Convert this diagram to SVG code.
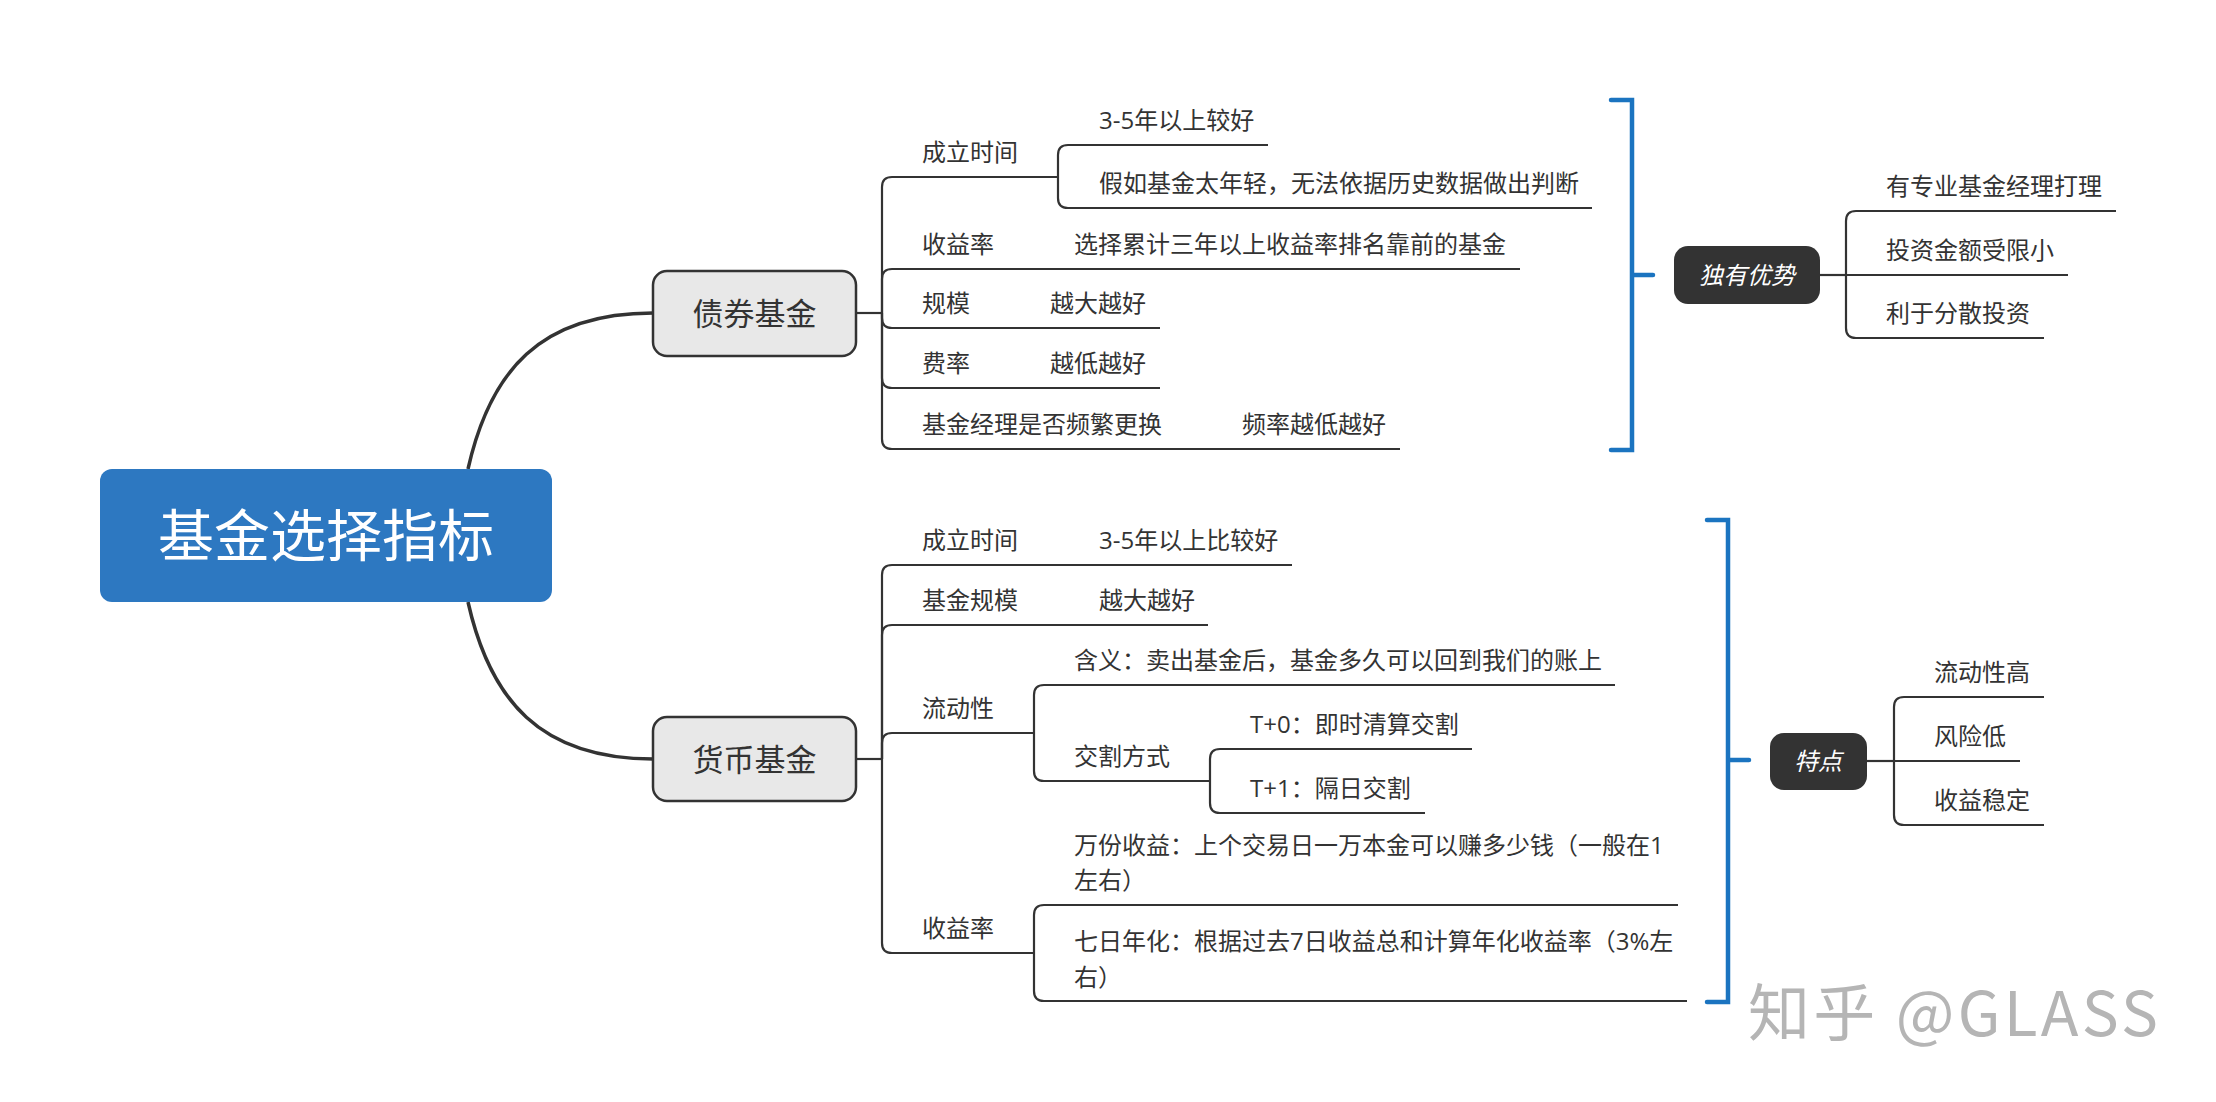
<svg xmlns="http://www.w3.org/2000/svg" width="2216" height="1102" viewBox="0 0 2216 1102">
<style>
.t{font-family:"Open Sans","Noto Sans CJK SC",sans-serif;font-size:24px;fill:#333}
.ln{fill:none;stroke:#333;stroke-width:2.2}
.cv{fill:none;stroke:#333;stroke-width:3.5}
.bl{fill:none;stroke:#1b74c0;stroke-width:4.5;stroke-linecap:round;stroke-linejoin:miter}
.sub{fill:#e8e8e8;stroke:#333;stroke-width:2.5}
.dk{fill:#333}
.bt{font-family:"Noto Sans CJK SC",sans-serif;font-size:31px;fill:#333;text-anchor:middle}
.dt{font-family:"Noto Sans CJK SC",sans-serif;font-size:24px;fill:#fff;text-anchor:middle;font-style:italic}
</style>
<rect width="2216" height="1102" fill="#fff"/>
<g id="connectors">
<path class="cv" d="M468 469 C490 371 540 313 653 313"/>
<path class="cv" d="M468 602 C490 700 540 759 653 759"/>
<!-- bond fund -->
<path class="ln" d="M856 313 L882 313"/>
<path class="ln" d="M882 313 L882 187 Q882 177 892 177 L1058 177"/>
<path class="ln" d="M1058 177 L1058 155 Q1058 145 1068 145 L1268 145"/>
<path class="ln" d="M1058 177 L1058 198 Q1058 208 1068 208 L1592 208"/>
<path class="ln" d="M882 313 L882 279 Q882 269 892 269 L1520 269"/>
<path class="ln" d="M882 313 L882 318 Q882 328 892 328 L1160 328"/>
<path class="ln" d="M882 313 L882 378 Q882 388 892 388 L1160 388"/>
<path class="ln" d="M882 313 L882 439 Q882 449 892 449 L1400 449"/>
<path class="bl" d="M1611 100 L1632 100 L1632 450 L1611 450 M1632 275 L1653 275"/>
<path class="ln" d="M1820 275 L1846 275"/>
<path class="ln" d="M1846 275 L1846 221 Q1846 211 1856 211 L2116 211"/>
<path class="ln" d="M1846 275 L2068 275"/>
<path class="ln" d="M1846 275 L1846 328 Q1846 338 1856 338 L2044 338"/>
<!-- money fund -->
<path class="ln" d="M856 759 L882 759"/>
<path class="ln" d="M882 759 L882 575 Q882 565 892 565 L1292 565"/>
<path class="ln" d="M882 759 L882 635 Q882 625 892 625 L1208 625"/>
<path class="ln" d="M882 759 L882 743 Q882 733 892 733 L1034 733"/>
<path class="ln" d="M1034 733 L1034 695 Q1034 685 1044 685 L1615 685"/>
<path class="ln" d="M1034 733 L1034 771 Q1034 781 1044 781 L1210 781"/>
<path class="ln" d="M1210 781 L1210 759 Q1210 749 1220 749 L1472 749"/>
<path class="ln" d="M1210 781 L1210 803 Q1210 813 1220 813 L1425 813"/>
<path class="ln" d="M882 759 L882 943 Q882 953 892 953 L1034 953"/>
<path class="ln" d="M1034 953 L1034 915 Q1034 905 1044 905 L1678 905"/>
<path class="ln" d="M1034 953 L1034 991 Q1034 1001 1044 1001 L1687 1001"/>
<path class="bl" d="M1707 520 L1728 520 L1728 1002 L1707 1002 M1728 760 L1749 760"/>
<path class="ln" d="M1867 761 L1894 761"/>
<path class="ln" d="M1894 761 L1894 707 Q1894 697 1904 697 L2044 697"/>
<path class="ln" d="M1894 761 L2020 761"/>
<path class="ln" d="M1894 761 L1894 815 Q1894 825 1904 825 L2044 825"/>
</g>
<g id="root">
<rect x="100" y="469" width="452" height="133" rx="12" fill="#2d78c1"/>
<text x="326" y="556" font-family="Noto Sans CJK SC, sans-serif" font-size="56" fill="#fff" text-anchor="middle">基金选择指标</text>
</g>
<g id="bond-fund">
<rect class="sub" x="653" y="271" width="203" height="85" rx="14"/>
<text class="bt" x="754.5" y="325">债券基金</text>
</g>
<g id="bond-items">
<text class="t" x="922" y="161">成立时间</text>
<text class="t" x="1099" y="129">3-5年以上较好</text>
<text class="t" x="1099" y="192">假如基金太年轻，无法依据历史数据做出判断</text>
<text class="t" x="922" y="253">收益率</text>
<text class="t" x="1074" y="253">选择累计三年以上收益率排名靠前的基金</text>
<text class="t" x="922" y="312">规模</text>
<text class="t" x="1050" y="312">越大越好</text>
<text class="t" x="922" y="372">费率</text>
<text class="t" x="1050" y="372">越低越好</text>
<text class="t" x="922" y="433">基金经理是否频繁更换</text>
<text class="t" x="1242" y="433">频率越低越好</text>
</g>
<g id="advantage">
<rect class="dk" x="1674" y="246" width="146" height="58" rx="14"/>
<text class="dt" x="1747" y="284">独有优势</text>
</g>
<g id="advantage-items">
<text class="t" x="1886" y="195">有专业基金经理打理</text>
<text class="t" x="1886" y="259">投资金额受限小</text>
<text class="t" x="1886" y="322">利于分散投资</text>
</g>
<g id="money-fund">
<rect class="sub" x="653" y="717" width="203" height="84" rx="14"/>
<text class="bt" x="754.5" y="771">货币基金</text>
</g>
<g id="money-items">
<text class="t" x="922" y="549">成立时间</text>
<text class="t" x="1099" y="549">3-5年以上比较好</text>
<text class="t" x="922" y="609">基金规模</text>
<text class="t" x="1099" y="609">越大越好</text>
<text class="t" x="922" y="717">流动性</text>
<text class="t" x="1074" y="669">含义：卖出基金后，基金多久可以回到我们的账上</text>
<text class="t" x="1074" y="765">交割方式</text>
<text class="t" x="1250" y="733">T+0：即时清算交割</text>
<text class="t" x="1250" y="797">T+1：隔日交割</text>
<text class="t" x="922" y="937">收益率</text>
<text class="t" x="1074" y="854">万份收益：上个交易日一万本金可以赚多少钱（一般在1</text>
<text class="t" x="1074" y="889">左右）</text>
<text class="t" x="1074" y="950">七日年化：根据过去7日收益总和计算年化收益率（3%左</text>
<text class="t" x="1074" y="986">右）</text>
</g>
<g id="feature">
<rect class="dk" x="1770" y="733" width="97" height="57" rx="14"/>
<text class="dt" x="1818" y="770">特点</text>
</g>
<g id="feature-items">
<text class="t" x="1934" y="681">流动性高</text>
<text class="t" x="1934" y="745">风险低</text>
<text class="t" x="1934" y="809">收益稳定</text>
</g>
<text x="1748" y="1036" font-family="Noto Sans CJK SC, sans-serif" font-size="62" fill="#b5b5b5" textLength="410" lengthAdjust="spacing">知乎 @GLASS</text>
</svg>
